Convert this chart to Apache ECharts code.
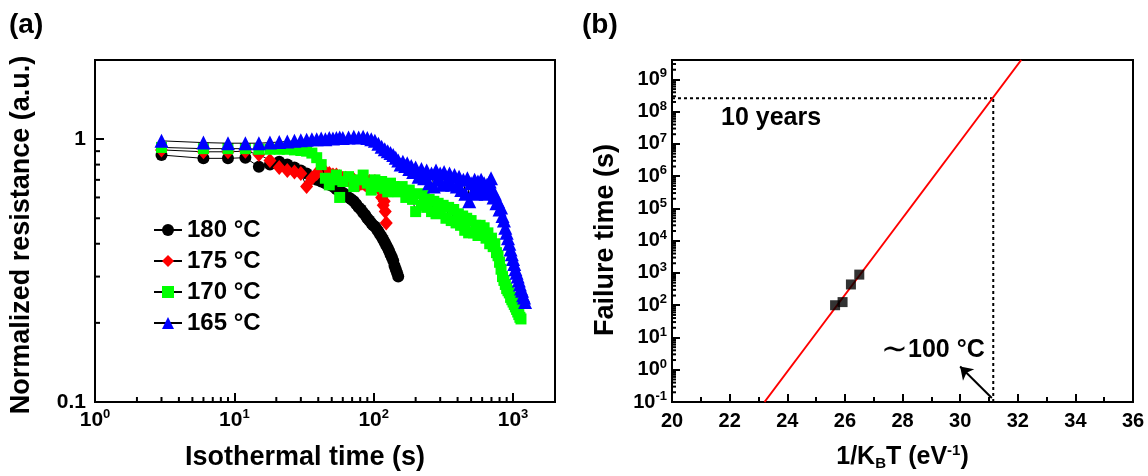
<!DOCTYPE html>
<html><head><meta charset="utf-8">
<script src="https://cdn.jsdelivr.net/npm/echarts@6/dist/echarts.min.js"></script>
<style>html,body{margin:0;padding:0;background:#fff}#c{width:1148px;height:476px}</style>
</head><body><div id="c"></div>
<script>
// ---------- Panel (a): normalized resistance vs isothermal time ----------
const t180 = [3,6,9,12,15,18,21,24,27,30,33,36,39,42,45,48,51,54,57,60,63,66,69,72,75,78,81,84,87,90,93,96,99,102,105,108,111,114,117,120,123,126,129,132,135,138,141,144,147,150];
const r180 = [0.87,0.845,0.845,0.85,0.785,0.80,0.82,0.80,0.78,0.76,0.74,0.72,0.70,0.69,0.68,0.67,0.66,0.645,0.635,0.625,0.615,0.60,0.59,0.58,0.565,0.55,0.54,0.525,0.515,0.50,0.49,0.48,0.47,0.465,0.455,0.445,0.435,0.425,0.415,0.405,0.395,0.385,0.375,0.365,0.355,0.345,0.33,0.32,0.31,0.30];

const t175 = [3,6,9,12,15,18,21,24,27,30,33,36,39,42,45,48,51,54,57,60,63,66,69,72,75,78,81,84,87,90,93,96,99,102,105,108,111,114,117,119,121,123];
const r175 = [0.91,0.895,0.895,0.90,0.875,0.83,0.78,0.76,0.75,0.74,0.66,0.71,0.74,0.75,0.75,0.74,0.73,0.73,0.72,0.71,0.71,0.70,0.69,0.70,0.67,0.67,0.68,0.68,0.67,0.68,0.69,0.685,0.68,0.69,0.68,0.67,0.64,0.60,0.56,0.58,0.53,0.48];

const t170 = [3,6,9,12,15,18,21,24,27,30,33,36,39,42,45,48,51,54,57,60,66,72,78,84,90,96,102,108,114,120,126,132,140,150,160,170,180,190,200,210,220,230,240,250,260,270,280,290,300,315,330,345,360,375,390,405,420,435,450,465,480,500,520,540,560,580,600,620,640,660,680,700,720,740,760,780,800,820,840,860,880,900,920,940,960,980,1000,1020,1040,1060,1080,1100,1120,1140];
const r170 = [0.93,0.92,0.92,0.92,0.915,0.915,0.915,0.915,0.91,0.905,0.90,0.885,0.85,0.80,0.71,0.67,0.70,0.73,0.60,0.69,0.72,0.66,0.70,0.73,0.68,0.64,0.70,0.66,0.69,0.65,0.63,0.68,0.66,0.63,0.66,0.60,0.64,0.59,0.53,0.62,0.56,0.61,0.55,0.59,0.53,0.58,0.52,0.57,0.53,0.56,0.50,0.55,0.49,0.54,0.48,0.52,0.47,0.51,0.45,0.50,0.44,0.49,0.44,0.47,0.43,0.47,0.43,0.46,0.42,0.44,0.40,0.42,0.39,0.40,0.37,0.36,0.34,0.32,0.30,0.29,0.28,0.27,0.265,0.26,0.25,0.245,0.24,0.235,0.23,0.225,0.22,0.215,0.21,0.207];

const t165 = [3,6,9,12,15,18,21,24,27,30,33,36,39,42,45,48,51,54,57,60,66,72,78,84,90,96,102,108,114,120,126,132,138,144,150,156,162,168,174,180,186,192,200,210,220,230,240,250,260,270,280,290,300,310,320,335,350,365,380,395,410,425,440,455,470,485,500,515,530,545,560,575,590,605,620,635,650,665,680,695,710,725,740,760,780,800,820,840,860,880,900,920,940,960,980,1000,1020,1040,1060,1080,1100,1120,1140,1160,1180,1200,1220];
const r165 = [0.985,0.97,0.965,0.965,0.965,0.97,0.975,0.98,0.985,0.99,0.995,1.0,1.0,1.005,1.0,1.01,1.005,1.01,1.015,1.01,1.015,1.02,1.015,1.02,1.01,1.0,0.985,0.96,0.935,0.915,0.90,0.885,0.87,0.85,0.83,0.80,0.82,0.79,0.81,0.77,0.79,0.75,0.78,0.72,0.77,0.71,0.76,0.68,0.74,0.66,0.76,0.70,0.74,0.67,0.75,0.69,0.74,0.67,0.73,0.66,0.72,0.64,0.70,0.62,0.71,0.58,0.68,0.63,0.70,0.62,0.69,0.64,0.70,0.63,0.68,0.62,0.67,0.64,0.69,0.71,0.64,0.60,0.62,0.57,0.58,0.54,0.55,0.51,0.49,0.46,0.44,0.42,0.40,0.38,0.365,0.35,0.335,0.32,0.31,0.30,0.29,0.28,0.27,0.265,0.255,0.25,0.24];

const seriesNames = ['180 \u00B0C','175 \u00B0C','170 \u00B0C','165 \u00B0C'];
const xRangeA = [1, 2000];
const yRangeA = [0.1, 2];
const xTicksA = [1, 10, 100, 1000];
const xMinorA = [2,3,4,5,6,7,8,9,20,30,40,50,60,70,80,90,200,300,400,500,600,700,800,900];
const yTicksA = [0.1, 1];
const yTickLabelsA = ['0.1', '1'];
const yMinorA = [0.2,0.3,0.4,0.5,0.6,0.7,0.8,0.9];

// ---------- Panel (b): Arrhenius extrapolation ----------
const invKT = [25.66, 25.92, 26.21, 26.50];
const failTime = [100, 125, 440, 890];
const fitX = [23.21, 32.12];
const fitY = [0.1, 4e9];
const tenYearX = [20, 31.15];
const tenYearY = [2.6e8, 2.6e8];
const crossX = [31.15, 31.15];
const crossY = [0.1, 2.6e8];
const arrowFrom = [31.1, 0.133];
const arrowTo = [30.0, 1.26];
const xRangeB = [20, 36];
const yRangeB = [0.1, 4e9];
const yTicksB = [0.1,1,10,100,1e3,1e4,1e5,1e6,1e7,1e8,1e9];

// ---------- build ----------
const L = Math.log10;
const FONT = 'Arial, "Liberation Sans", Helvetica, sans-serif';
const BLACK = '#000';
const yMinorB = [];
for (let k = -1; k <= 9; k++) for (let m = 2; m <= 9; m++) { const v = m * Math.pow(10, k); if (v < yRangeB[1]) yMinorB.push(v); }

const pairs = (xs, ys) => xs.map((x, i) => [L(x), L(ys[i])]);
const pairsY = (xs, ys) => xs.map((x, i) => [x, L(ys[i])]);

const supRich = (fs, ss, raise) => ({
  b: {fontSize: fs, fontWeight: 'bold', fontFamily: FONT, color: BLACK},
  s: {fontSize: ss, fontWeight: 'bold', fontFamily: FONT, color: BLACK, padding: [0, 0, raise, 0]}
});
const powFmt = v => '{b|10}{s|' + Math.round(v) + '}';
const axisLineSt = {show: true, onZero: false, lineStyle: {color: BLACK, width: 2}};
const nameSt = fs => ({fontSize: fs, fontWeight: 'bold', fontFamily: FONT, color: BLACK});

// minor log ticks drawn with a custom series through the axis scales
function minorTickSeries(grid, pts, dx, dy) {
  return {type: 'custom', coordinateSystem: 'cartesian2d', xAxisIndex: grid, yAxisIndex: grid, data: pts,
    silent: true, clip: false, z: 10,
    renderItem: (params, api) => {
      const p = api.coord([api.value(0), api.value(1)]);
      return {type: 'line', shape: {x1: p[0], y1: p[1], x2: p[0] + dx, y2: p[1] + dy},
        style: {stroke: BLACK, lineWidth: 2}};
    }};
}

const xAxis = [
  {type: 'value', gridIndex: 0, position: 'bottom', min: L(xRangeA[0]), max: L(xRangeA[1]),
   axisLine: axisLineSt, splitLine: {show: false},
   axisTick: {show: true, inside: true, length: 9, customValues: xTicksA.map(L), lineStyle: {color: BLACK, width: 2}},
   axisLabel: {customValues: xTicksA.map(L), formatter: powFmt, rich: supRich(21, 13, 11), margin: 6},
   name: 'Isothermal time (s)', nameLocation: 'middle', nameGap: 42,
   nameTextStyle: Object.assign(nameSt(27), {padding: [0, 40, 0, 0]})},
  {type: 'value', gridIndex: 1, position: 'bottom', min: xRangeB[0], max: xRangeB[1], interval: 2,
   axisLine: axisLineSt, splitLine: {show: false},
   axisTick: {show: true, inside: true, length: 8, lineStyle: {color: BLACK, width: 2}},
   minorTick: {show: true, splitNumber: 2, length: 5, lineStyle: {color: BLACK, width: 2}},
   axisLabel: {fontSize: 20, fontWeight: 'bold', fontFamily: FONT, color: BLACK, margin: 9},
   name: '1/K{sub|B}T (eV{sup|-1})', nameLocation: 'middle', nameGap: 41,
   nameTextStyle: Object.assign(nameSt(25), {rich: {
     sub: {fontSize: 15, fontWeight: 'bold', fontFamily: FONT, color: BLACK, padding: [13, 0, 0, 0]},
     sup: {fontSize: 15, fontWeight: 'bold', fontFamily: FONT, color: BLACK, padding: [0, 0, 12, 0]}}})}
];

const yAxis = [
  {type: 'value', gridIndex: 0, position: 'left', min: L(yRangeA[0]), max: L(yRangeA[1]),
   axisLine: axisLineSt, splitLine: {show: false},
   axisTick: {show: true, inside: true, length: 9, customValues: yTicksA.map(L), lineStyle: {color: BLACK, width: 2}},
   axisLabel: {customValues: yTicksA.map(L), formatter: v => yTickLabelsA[Math.round(v) + 1],
     fontSize: 21, fontWeight: 'bold', fontFamily: FONT, color: BLACK, margin: 9},
   name: 'Normalized resistance (a.u.)', nameLocation: 'middle', nameGap: 60,
   nameTextStyle: Object.assign(nameSt(27), {padding: [0, 8, 0, 0]})},
  {type: 'value', gridIndex: 1, position: 'left', min: L(yRangeB[0]), max: L(yRangeB[1]),
   axisLine: axisLineSt, splitLine: {show: false},
   axisTick: {show: true, inside: true, length: 8, customValues: yTicksB.map(L), lineStyle: {color: BLACK, width: 2}},
   axisLabel: {customValues: yTicksB.map(L), formatter: powFmt, rich: supRich(20, 13, 11), margin: 5},
   name: 'Failure time (s)', nameLocation: 'middle', nameGap: 53,
   nameTextStyle: Object.assign(nameSt(27), {padding: [0, 18, 0, 0]})}
];

const markerDefs = [
  {sym: 'circle', size: 12, color: '#000000'},
  {sym: 'diamond', size: [13, 15], color: '#ff0000'},
  {sym: 'rect', size: 11, color: '#00ff00'},
  {sym: 'triangle', size: 14, color: '#0000ff'}
];
const dataA = [pairs(t180, r180), pairs(t175, r175), pairs(t170, r170), pairs(t165, r165)];

const series = dataA.map((d, i) => ({
  type: 'line', name: seriesNames[i], xAxisIndex: 0, yAxisIndex: 0, data: d,
  symbol: markerDefs[i].sym, symbolSize: markerDefs[i].size, showSymbol: true,
  lineStyle: {color: BLACK, width: 1}, itemStyle: {color: markerDefs[i].color, borderWidth: 0},
  emphasis: {disabled: true}, z: 2 + i
}));

series.push(
  minorTickSeries(0, xMinorA.map(v => [L(v), L(yRangeA[0])]), 0, -5),
  minorTickSeries(0, yMinorA.map(v => [L(xRangeA[0]), L(v)]), 5, 0),
  minorTickSeries(1, yMinorB.map(v => [xRangeB[0], L(v)]), 4, 0),
  {type: 'line', name: 'fit', xAxisIndex: 1, yAxisIndex: 1, data: pairsY(fitX, fitY), showSymbol: false, symbol: 'none',
   lineStyle: {color: '#ff0000', width: 2}, emphasis: {disabled: true}, z: 3},
  {type: 'line', name: 'tenY', xAxisIndex: 1, yAxisIndex: 1, data: pairsY(tenYearX, tenYearY), symbol: 'none',
   lineStyle: {color: BLACK, width: 2, type: [3, 3]}, emphasis: {disabled: true}, z: 2},
  {type: 'line', name: 'cross', xAxisIndex: 1, yAxisIndex: 1, data: pairsY(crossX, crossY), symbol: 'none',
   lineStyle: {color: BLACK, width: 2, type: [3, 3]}, emphasis: {disabled: true}, z: 2},
  {type: 'scatter', name: 'pts', xAxisIndex: 1, yAxisIndex: 1, data: pairsY(invKT, failTime), symbol: 'rect', symbolSize: 10,
   itemStyle: {color: BLACK}, emphasis: {disabled: true}, z: 4},
  {type: 'line', name: 'arrow', xAxisIndex: 1, yAxisIndex: 1, data: [], symbol: 'none',
   markLine: {silent: true, symbol: ['none', 'arrow'], symbolSize: 12, label: {show: false},
     lineStyle: {color: BLACK, width: 2, type: 'solid'}, animation: false,
     data: [[{coord: [arrowFrom[0], L(arrowFrom[1])]}, {coord: [arrowTo[0], L(arrowTo[1])]}]]}}
);

const option = {
  animation: false,
  backgroundColor: '#fff',
  grid: [
    {left: 95, right: 593, top: 60, bottom: 73, show: true, borderColor: BLACK, borderWidth: 2, backgroundColor: 'transparent'},
    {left: 672, right: 15, top: 60, bottom: 74, show: true, borderColor: BLACK, borderWidth: 2, backgroundColor: 'transparent'}
  ],
  legend: {
    data: seriesNames, orient: 'vertical', left: 148, top: 213, itemWidth: 28, itemHeight: 15, itemGap: 7,
    lineStyle: {width: 2, color: BLACK},
    textStyle: {fontSize: 24, fontWeight: 'bold', fontFamily: FONT, color: BLACK}, selectedMode: false
  },
  xAxis: xAxis,
  yAxis: yAxis,
  series: series,
  graphic: [
    {type: 'text', left: 9, top: 11, style: {text: '(a)', font: 'bold 28px ' + FONT, fill: BLACK}},
    {type: 'text', left: 582, top: 11, style: {text: '(b)', font: 'bold 28px ' + FONT, fill: BLACK}},
    {type: 'text', left: 721, top: 106, style: {text: '10 years', font: 'bold 25px ' + FONT, fill: BLACK}},
    {type: 'text', left: 881, top: 334, style: {text: '{t|\u223C}{b|100 \u00B0C}', rich: {
      t: {fontSize: 32, fontFamily: FONT, fill: BLACK, color: BLACK},
      b: {fontSize: 25, fontWeight: 'bold', fontFamily: FONT, fill: BLACK, color: BLACK}}}}
  ]
};

const chart = echarts.init(document.getElementById('c'), null, {renderer: 'canvas'});
chart.setOption(option);
</script></body></html>
